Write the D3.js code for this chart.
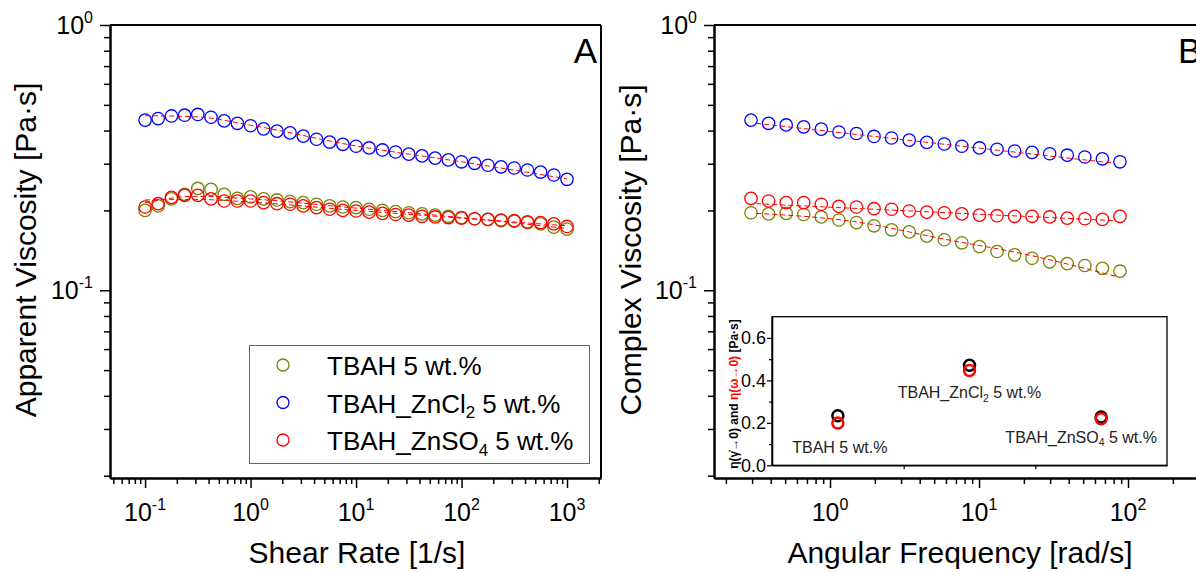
<!DOCTYPE html>
<html>
<head>
<meta charset="utf-8">
<script src="https://cdn.jsdelivr.net/npm/d3@7"></script>
<style>
  body { margin: 0; background: #fff; }
  svg { display: block; font-family: "Liberation Sans", Arial, sans-serif; }
</style>
</head>
<body>
<div id="chart"></div>
<script>
// ---- data ----
// panel A: steady shear
var shearRate = [0.1, 0.133, 0.178, 0.237, 0.316, 0.422, 0.562, 0.75, 1, 1.33, 1.78, 2.37, 3.16, 4.22, 5.62, 7.5,
                 10, 13.3, 17.8, 23.7, 31.6, 42.2, 56.2, 75, 100, 133, 178, 237, 316, 422, 562, 750, 1000];
var apparentTBAH = [0.200, 0.208, 0.221, 0.230, 0.242, 0.240, 0.230, 0.222, 0.225, 0.221, 0.219, 0.216, 0.214, 0.211, 0.208, 0.206, 0.205,
                    0.202, 0.200, 0.198, 0.196, 0.194, 0.192, 0.190, 0.188, 0.186, 0.185, 0.183, 0.182, 0.180, 0.178, 0.173, 0.170];
var apparentZnCl2 = [0.438, 0.444, 0.454, 0.457, 0.460, 0.449, 0.435, 0.426, 0.417, 0.406, 0.398, 0.392, 0.381, 0.371, 0.362, 0.355, 0.349,
                     0.344, 0.338, 0.332, 0.326, 0.321, 0.315, 0.310, 0.305, 0.301, 0.296, 0.292, 0.289, 0.284, 0.279, 0.272, 0.262];
var apparentZnSO4 = [0.206, 0.212, 0.224, 0.228, 0.228, 0.221, 0.217, 0.217, 0.217, 0.214, 0.212, 0.211, 0.208, 0.205, 0.202, 0.200, 0.199,
                     0.197, 0.195, 0.193, 0.192, 0.190, 0.189, 0.188, 0.187, 0.186, 0.185, 0.184, 0.183, 0.181, 0.180, 0.178, 0.174];
// red dashed model fits in panel A  [shear rate, viscosity]
var fitShearTBAH = [[0.1, 0.214], [0.3, 0.226], [1, 0.221], [10, 0.204], [100, 0.188], [1000, 0.171]];
var fitShearZnCl2 = [[0.1, 0.455], [0.3, 0.451], [1, 0.419], [10, 0.350], [100, 0.305], [1000, 0.263]];
var fitShearZnSO4 = [[0.1, 0.219], [0.3, 0.220], [1, 0.215], [10, 0.200], [100, 0.187], [1000, 0.175]];

// panel B: oscillatory
var angFreq = [0.295, 0.387, 0.508, 0.666, 0.874, 1.147, 1.505, 1.974, 2.59, 3.40, 4.46, 5.85, 7.67, 10.07,
               13.21, 17.33, 22.7, 29.8, 39.1, 51.3, 67.3, 88.3];
var complexTBAH = [0.196, 0.194, 0.195, 0.193, 0.189, 0.184, 0.180, 0.175, 0.169, 0.166, 0.160, 0.155, 0.151, 0.146,
                   0.140, 0.136, 0.132, 0.128, 0.126, 0.124, 0.121, 0.118];
var complexZnCl2 = [0.438, 0.426, 0.420, 0.413, 0.405, 0.395, 0.390, 0.380, 0.375, 0.368, 0.361, 0.356, 0.349, 0.344,
                    0.340, 0.335, 0.331, 0.327, 0.323, 0.318, 0.313, 0.305];
var complexZnSO4 = [0.222, 0.217, 0.214, 0.214, 0.211, 0.207, 0.206, 0.203, 0.202, 0.199, 0.197, 0.196, 0.194, 0.192,
                    0.191, 0.190, 0.190, 0.189, 0.187, 0.186, 0.185, 0.190];
var fitOscTBAH = [[0.32, 0.195], [1.5, 0.181], [5.8, 0.156], [20, 0.137], [82, 0.113]];
var fitOscZnCl2 = [[0.32, 0.426], [82, 0.301]];
var fitOscZnSO4 = [[0.32, 0.212], [82, 0.183]];

// inset: zero-shear values
var insetNames = ['TBAH', 'TBAH_ZnCl2', 'TBAH_ZnSO4'];
var insetShearZero = [0.233, 0.471, 0.227];
var insetOscZero = [0.199, 0.447, 0.219];

var seriesNames = ['TBAH', 'TBAH_ZnCl2', 'TBAH_ZnSO4'];
var colors = { 'TBAH': '#808000', 'TBAH_ZnCl2': '#0000ff', 'TBAH_ZnSO4': '#ff0000' };

// ---- svg ----
var W = 1196, H = 572;
var svg = d3.select('#chart').append('svg').attr('width', W).attr('height', H);
svg.append('rect').attr('width', W).attr('height', H).attr('fill', '#fff');

var plotTop = 25, plotBottom = 478;
var xA = d3.scaleLog().domain([0.0465, 2100]).range([110, 601]);
var xB = d3.scaleLog().domain([0.1665, 285.9]).range([714, 1196]);
var yV = d3.scaleLog().domain([0.0196, 1]).range([plotBottom, plotTop]);

function isDecade(v){
    var l = Math.log10(v);
    return Math.abs(l - Math.round(l)) < 1e-6;
}

// draw log axes for one panel
function drawPanel(x, xRight){
    var minorX = x.ticks().filter(function(v){ return !isDecade(v); });
    var majorX = x.ticks().filter(isDecade);
    var minorY = yV.ticks().filter(function(v){ return !isDecade(v); });
    var majorY = yV.ticks().filter(isDecade);
    var x0 = x.range()[0];

    // frame top / right
    svg.append('line').attr('x1', x0).attr('x2', xRight).attr('y1', plotTop).attr('y2', plotTop)
        .attr('stroke', '#000').attr('stroke-width', 2);
    svg.append('line').attr('x1', xRight).attr('x2', xRight).attr('y1', plotTop).attr('y2', plotBottom)
        .attr('stroke', '#000').attr('stroke-width', 2);

    var gx = svg.append('g').attr('transform', 'translate(0,' + plotBottom + ')');
    gx.append('g').call(d3.axisBottom(x).tickValues(minorX).tickSize(6).tickSizeOuter(0).tickFormat(''));
    gx.append('g').call(d3.axisBottom(x).tickValues(majorX).tickSize(10).tickSizeOuter(0).tickFormat(''));
    var gy = svg.append('g').attr('transform', 'translate(' + x0 + ',0)');
    gy.append('g').call(d3.axisLeft(yV).tickValues(minorY).tickSize(6).tickSizeOuter(0).tickFormat(''));
    gy.append('g').call(d3.axisLeft(yV).tickValues(majorY).tickSize(10).tickSizeOuter(0).tickFormat(''));
    svg.selectAll('.domain').attr('stroke-width', 2);
    svg.selectAll('.tick line').attr('stroke-width', 1.5);

    // tick labels with superscripts
    majorX.forEach(function(v){
        var t = svg.append('text').attr('x', x(v)).attr('y', 521).attr('text-anchor', 'middle')
            .attr('font-size', 25);
        t.append('tspan').text('10');
        t.append('tspan').attr('font-size', 16).attr('dy', -11).text(Math.round(Math.log10(v)));
    });
    majorY.forEach(function(v){
        var t = svg.append('text').attr('x', x0 - 17).attr('y', yV(v) + 8.5).attr('text-anchor', 'end')
            .attr('font-size', 25);
        t.append('tspan').text('10');
        t.append('tspan').attr('font-size', 16).attr('dy', -11).text(Math.round(Math.log10(v)));
    });
}

drawPanel(xA, 601);
drawPanel(xB, 1240);

var fitLine = function(x){
    return d3.line().x(function(d){ return x(d[0]); }).y(function(d){ return yV(d[1]); }).curve(d3.curveMonotoneX);
};

function drawSeries(x, xs, ys, color){
    svg.append('g').selectAll('circle').data(ys).enter().append('circle')
        .attr('cx', function(d, i){ return x(xs[i]); })
        .attr('cy', function(d){ return yV(d); })
        .attr('r', 6.2)
        .attr('fill', 'none')
        .attr('stroke', color)
        .attr('stroke-width', 1.3);
}
function drawFit(x, pts){
    svg.append('path').datum(pts).attr('d', fitLine(x))
        .attr('fill', 'none').attr('stroke', '#ff0000').attr('stroke-width', 1)
        .attr('stroke-dasharray', '5,3');
}

// panel A
drawSeries(xA, shearRate, apparentZnCl2, colors['TBAH_ZnCl2']);
drawSeries(xA, shearRate, apparentTBAH, colors['TBAH']);
drawSeries(xA, shearRate, apparentZnSO4, colors['TBAH_ZnSO4']);
drawFit(xA, fitShearZnCl2);
drawFit(xA, fitShearTBAH);
drawFit(xA, fitShearZnSO4);

// panel B
drawSeries(xB, angFreq, complexZnCl2, colors['TBAH_ZnCl2']);
drawSeries(xB, angFreq, complexTBAH, colors['TBAH']);
drawSeries(xB, angFreq, complexZnSO4, colors['TBAH_ZnSO4']);
drawFit(xB, fitOscZnCl2);
drawFit(xB, fitOscTBAH);
drawFit(xB, fitOscZnSO4);

// sample label with optional subscript, e.g. TBAH_ZnCl2 -> TBAH_ZnCl₂ 5 wt.%
function sampleLabel(t, name, size){
    var m = name.match(/^(.*?)(\d)$/);
    if (m){
        t.append('tspan').text(m[1]);
        t.append('tspan').attr('font-size', size * 0.65).attr('dy', size * 0.22).text(m[2]);
        t.append('tspan').attr('dy', -size * 0.22).text(' 5 wt.%');
    } else {
        t.append('tspan').text(name + ' 5 wt.%');
    }
}

// legend A
svg.append('rect').attr('x', 249.5).attr('y', 345.5).attr('width', 340).attr('height', 118)
    .attr('fill', '#fff').attr('stroke', '#666').attr('stroke-width', 1);
seriesNames.forEach(function(name, i){
    var yy = 365 + i * 37.5;
    svg.append('circle').attr('cx', 283).attr('cy', yy).attr('r', 6)
        .attr('fill', 'none').attr('stroke', colors[name]).attr('stroke-width', 1.3);
    var t = svg.append('text').attr('x', 327).attr('y', yy + 10).attr('font-size', 26).attr('fill', '#000');
    sampleLabel(t, name, 26);
});

// panel letters
svg.append('text').attr('x', 597).attr('y', 63).attr('text-anchor', 'end').attr('font-size', 35).text('A');
svg.append('text').attr('x', 1178).attr('y', 63).attr('font-size', 35).text('B');

// axis titles
svg.append('text').attr('transform', 'translate(36,250) rotate(-90)').attr('text-anchor', 'middle')
    .attr('font-size', 30).text('Apparent Viscosity [Pa\u00b7s]');
svg.append('text').attr('transform', 'translate(641,250) rotate(-90)').attr('text-anchor', 'middle')
    .attr('font-size', 30).text('Complex Viscosity [Pa\u00b7s]');
svg.append('text').attr('x', 357).attr('y', 563).attr('text-anchor', 'middle')
    .attr('font-size', 30).text('Shear Rate [1/s]');
svg.append('text').attr('x', 960).attr('y', 563).attr('text-anchor', 'middle')
    .attr('font-size', 30).text('Angular Frequency [rad/s]');

// ---- inset ----
var ix = d3.scaleLinear().domain([0, 3]).range([772, 1167]);
var iy = d3.scaleLinear().domain([0, 0.7]).range([465.3, 316.7]);
var inset = svg.append('g');
inset.append('rect').attr('x', 772).attr('y', 316.7).attr('width', 395).attr('height', 148.6)
    .attr('fill', '#fff').attr('stroke', '#000').attr('stroke-width', 1.3);
inset.append('g').attr('transform', 'translate(772,0)')
    .call(d3.axisLeft(iy).tickValues([0.1, 0.3, 0.5]).tickSize(3).tickSizeOuter(0).tickFormat(''));
var iyMajor = inset.append('g').attr('transform', 'translate(772,0)')
    .call(d3.axisLeft(iy).tickValues([0, 0.2, 0.4, 0.6]).tickSize(5).tickSizeOuter(0).tickFormat(d3.format('.1f')));
iyMajor.selectAll('text').attr('font-size', 18).attr('font-family', '"Liberation Sans", Arial, sans-serif')
    .attr('fill', '#000').attr('x', -6);
inset.append('g').attr('transform', 'translate(0,465.3)')
    .call(d3.axisBottom(ix).tickValues([1, 2]).tickSize(4).tickSizeOuter(0).tickFormat(''));
inset.selectAll('.domain').attr('stroke-width', 1.3);
inset.selectAll('.tick line').attr('stroke-width', 1.2);

inset.selectAll('circle.shear').data(insetShearZero).enter().append('circle')
    .attr('cx', function(d, i){ return ix(i + 0.5); })
    .attr('cy', function(d){ return iy(d); })
    .attr('r', 5.5).attr('fill', 'none').attr('stroke', '#000').attr('stroke-width', 2.5);
inset.selectAll('circle.osc').data(insetOscZero).enter().append('circle')
    .attr('cx', function(d, i){ return ix(i + 0.5); })
    .attr('cy', function(d){ return iy(d); })
    .attr('r', 5.5).attr('fill', 'none').attr('stroke', '#ff0000').attr('stroke-width', 2.5);

var labelShift = [[2, 30], [0, 28], [-20, 24]];
insetNames.forEach(function(name, i){
    var t = inset.append('text')
        .attr('x', ix(i + 0.5) + labelShift[i][0])
        .attr('y', iy(insetOscZero[i]) + labelShift[i][1])
        .attr('text-anchor', 'middle').attr('font-size', 16).attr('fill', '#222');
    sampleLabel(t, name, 16);
});

var yl = inset.append('text').attr('transform', 'translate(738,394) rotate(-90)')
    .attr('text-anchor', 'middle').attr('font-size', 12).attr('font-weight', 'bold');
yl.append('tspan').text('\u03b7(\u03b3\u0307\u21920)  and  ');
yl.append('tspan').attr('fill', '#ff0000').text('\u03b7(\u03c9\u21920)');
yl.append('tspan').text(' [Pa\u00b7s]');
</script>
</body>
</html>
